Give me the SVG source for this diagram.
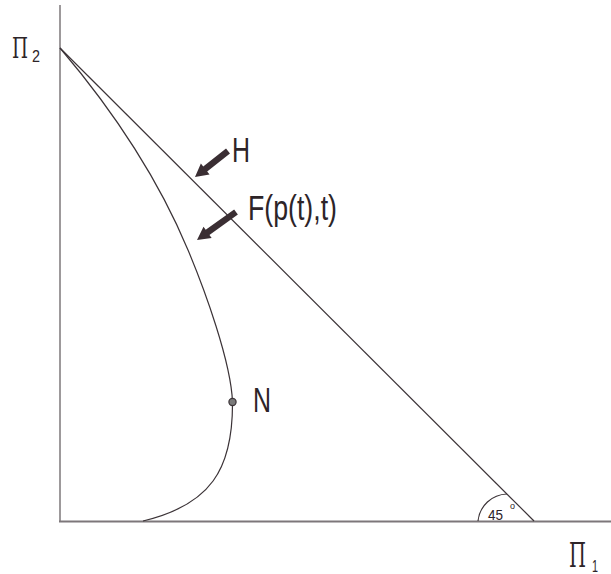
<svg xmlns="http://www.w3.org/2000/svg" width="611" height="574" viewBox="0 0 611 574">
<style>
.axis{stroke:#7d777a;fill:none}
.ln{stroke:#3b3337;stroke-width:1.2;fill:none}
.lbl{font-family:"Liberation Sans",Arial,sans-serif;fill:#2d2428}
.serif{font-family:"DejaVu Serif","Liberation Serif",serif;fill:#2d2428}
.arr{fill:#3a2e33}
</style>
<rect width="611" height="574" fill="#ffffff"/>
<g id="axes">
<line class="axis" x1="60" y1="5" x2="60" y2="522" stroke-width="1.5"/>
<line class="axis" x1="59" y1="521.5" x2="611" y2="521.5" stroke-width="2"/>
</g>
<g id="connectors">
<line id="H-line" class="ln" x1="60" y1="48" x2="534" y2="521"/>
<path id="F-curve" class="ln" d="M60,48 C117,115 160,183 188,250 C204.8,290 231,362 232.5,402 C233,470 210,505 143,521"/>
<path id="angle-arc" class="ln" d="M478,521 A30,30 0 0 1 507,494"/>
<polygon id="H-arrow" class="arr" transform="translate(228,151) rotate(141.8)" points="0,-3.2 29,-3.2 29,-7 42,0 29,7 29,3.2 0,3.2"/>
<polygon id="F-arrow" class="arr" transform="translate(236,212) rotate(144.3)" points="0,-3.2 35,-3.2 35,-7 48,0 35,7 35,3.2 0,3.2"/>
</g>
<g id="node-N">
<circle cx="232.5" cy="402" r="3.6" fill="#7a7a7a" stroke="#3b3337" stroke-width="1.2"/>
<text class="lbl" x="253" y="412" font-size="35" textLength="18" lengthAdjust="spacingAndGlyphs">N</text>
</g>
<g id="label-H">
<text class="lbl" x="232" y="162" font-size="35" textLength="18" lengthAdjust="spacingAndGlyphs">H</text>
</g>
<g id="label-F">
<text class="lbl" x="248" y="220" font-size="35" textLength="89" lengthAdjust="spacingAndGlyphs">F(p(t),t)</text>
</g>
<g id="label-angle">
<text class="lbl" x="488" y="520" font-size="15" textLength="15" lengthAdjust="spacingAndGlyphs">45</text>
<text class="lbl" x="510" y="509" font-size="9">o</text>
</g>
<g id="label-Pi2">
<text class="serif" x="12" y="58" font-size="28" textLength="16" lengthAdjust="spacingAndGlyphs">Π</text>
<text class="lbl" x="32" y="62" font-size="16" textLength="8" lengthAdjust="spacingAndGlyphs">2</text>
</g>
<g id="label-Pi1">
<text class="serif" x="569" y="567" font-size="33" textLength="17" lengthAdjust="spacingAndGlyphs">Π</text>
<text class="lbl" x="592" y="572" font-size="17" textLength="6" lengthAdjust="spacingAndGlyphs">1</text>
</g>
</svg>
